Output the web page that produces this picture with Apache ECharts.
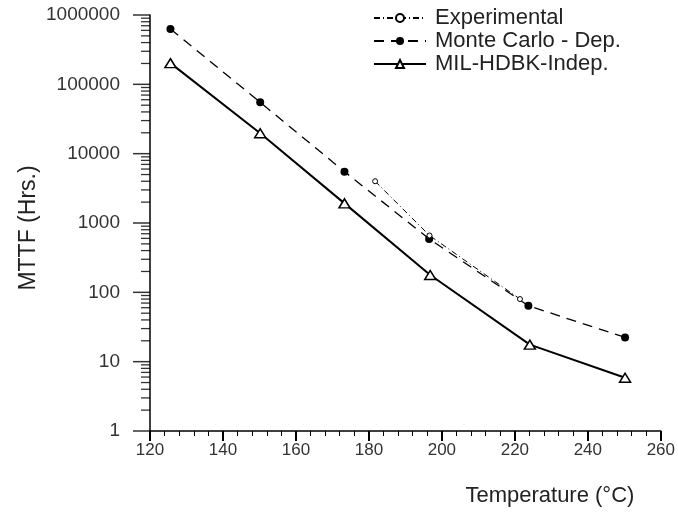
<!DOCTYPE html>
<html><head><meta charset="utf-8">
<script src="https://cdn.jsdelivr.net/npm/echarts@6/dist/echarts.min.js"></script>
<style>html,body{margin:0;padding:0;background:#fff}#c{width:678px;height:513px}</style>
</head><body><div id="c"></div>
<script>
// Data
const tempExp = [181.7, 196.6, 221.4];
const mttfExp = [4000, 660, 80];
const tempMC  = [125.6, 150.2, 173.3, 196.5, 223.7, 250.2];
const mttfMC  = [628000, 55000, 5500, 590, 64, 22.4];
const tempMIL = [125.6, 150.2, 173.3, 196.8, 224.1, 250.2];
const mttfMIL = [202000, 19700, 1920, 178, 17.6, 5.86];
const seriesNames = ['Experimental', 'Monte Carlo - Dep.', 'MIL-HDBK-Indep.'];
const xTicks = [120, 140, 160, 180, 200, 220, 240, 260];
const yTicks = [1, 10, 100, 1000, 10000, 100000, 1000000];

// log minor tick values 2..9 in each decade
const yMinor = [];
for (let i = 0; i < yTicks.length - 1; i++) for (let k = 2; k <= 9; k++) yMinor.push(yTicks[i] * k);
const pairs = (xs, ys) => xs.map((x, i) => [x, ys[i]]);
const FONT = "'Liberation Sans', Arial, sans-serif";
const TOP = 15, BOTTOM = 82, LEFT = 150;
const logY = (grid) => ({gridIndex: grid, type: 'log', logBase: 10, min: yTicks[0], max: yTicks[yTicks.length - 1], show: false});

const chart = echarts.init(document.getElementById('c'), null, {renderer: 'canvas'});
chart.setOption({
  animation: false,
  backgroundColor: '#fff',
  tooltip: {show: false},
  grid: [
    {left: LEFT, right: 11, top: TOP, bottom: BOTTOM},
    {left: LEFT - 17, width: 17, top: TOP, bottom: BOTTOM},   // major y ticks strip
    {left: LEFT - 9, width: 9, top: TOP, bottom: BOTTOM}      // minor y ticks strip
  ],
  legend: {
    orient: 'vertical', left: 373, top: 7, itemWidth: 52, itemHeight: 10, itemGap: 1, padding: 0,
    textStyle: {fontFamily: FONT, fontSize: 22, color: '#222', padding: [0, 0, 0, 4]},
    data: seriesNames
  },
  xAxis: [{
    type: 'value', min: xTicks[0], max: xTicks[xTicks.length - 1], interval: 20,
    name: 'Temperature (°C)', nameLocation: 'middle', nameGap: 54,
    nameTextStyle: {fontFamily: FONT, fontSize: 22, color: '#222', padding: [0, 0, 0, 289]},
    axisLine: {show: true, onZero: false, lineStyle: {color: '#000', width: 1.5}},
    axisTick: {show: true, length: 10, lineStyle: {color: '#000', width: 2}},
    minorTick: {show: true, splitNumber: 5, length: 5, lineStyle: {color: '#000', width: 1}},
    axisLabel: {margin: 11, fontFamily: FONT, fontSize: 17, color: '#333'},
    splitLine: {show: false}
  }, {
    gridIndex: 1, type: 'value', min: 0, max: 1, show: false
  }, {
    gridIndex: 2, type: 'value', min: 0, max: 1, show: false
  }],
  yAxis: [{
    type: 'log', logBase: 10, min: yTicks[0], max: yTicks[yTicks.length - 1],
    name: 'MTTF (Hrs.)', nameLocation: 'middle', nameGap: 110, nameMoveOverlap: false,
    nameTextStyle: {fontFamily: FONT, fontSize: 23, color: '#222', padding: [0, 10, 0, 0]},
    axisLine: {show: true, onZero: false, lineStyle: {color: '#000', width: 1.5}},
    axisTick: {show: false},
    axisLabel: {margin: 30, fontFamily: FONT, fontSize: 19, color: '#333',
      formatter: v => Math.round(v).toString()},
    splitLine: {show: false}
  }, logY(1), logY(2)],
  series: [{
    name: seriesNames[0], type: 'line', data: pairs(tempExp, mttfExp), z: 4,
    symbol: 'circle', symbolSize: 5, showSymbol: true,
    lineStyle: {color: '#000', width: 1, type: [6, 3, 1, 3]},
    itemStyle: {color: '#fff', borderColor: '#000', borderWidth: 1}
  }, {
    name: seriesNames[1], type: 'line', data: pairs(tempMC, mttfMC), z: 3,
    symbol: 'circle', symbolSize: 8,
    lineStyle: {color: '#000', width: 1.3, type: [10, 7]},
    itemStyle: {color: '#000', borderColor: '#000', borderWidth: 0}
  }, {
    name: seriesNames[2], type: 'line', data: pairs(tempMIL, mttfMIL), z: 2,
    symbol: 'triangle', symbolSize: [11, 9],
    lineStyle: {color: '#000', width: 2},
    itemStyle: {color: '#fff', borderColor: '#000', borderWidth: 1.5}
  }, {
    // y-axis major tick marks, placed by the log scale
    name: 'yMajorTicks', type: 'scatter', xAxisIndex: 1, yAxisIndex: 1, silent: true, clip: false,
    data: yTicks.map(v => [0.5, v]), symbol: 'rect', symbolSize: [17, 1.5],
    itemStyle: {color: '#000'}
  }, {
    // y-axis minor tick marks, placed by the log scale
    name: 'yMinorTicks', type: 'scatter', xAxisIndex: 2, yAxisIndex: 2, silent: true, clip: false,
    data: yMinor.map(v => [0.5, v]), symbol: 'rect', symbolSize: [9, 1.3],
    itemStyle: {color: '#000'}
  }]
});
</script></body></html>
